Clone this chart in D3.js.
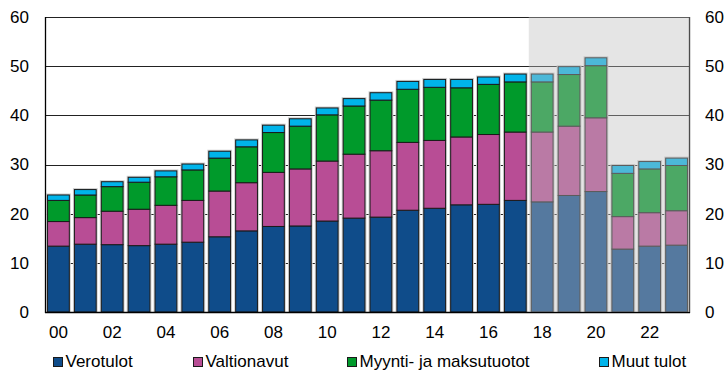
<!DOCTYPE html>
<html>
<head>
<meta charset="utf-8">
<script src="https://cdn.jsdelivr.net/npm/d3@7"></script>
<style>
  html, body { margin: 0; padding: 0; background: #fff; }
  svg { display: block; }
  text { font-family: "Liberation Sans", Arial, sans-serif; fill: #000; }
</style>
</head>
<body>
<svg id="chart" width="728" height="371"></svg>
<script>
// Municipal revenue by source, EUR bn (years 2000–2023; 2018 onward projected)
const years = d3.range(2000, 2024);
const verotulot = [13.4,13.8,13.7,13.5,13.8,14.2,15.3,16.5,17.4,17.5,18.5,19.1,19.3,20.7,21.1,21.8,21.9,22.7,22.4,23.7,24.5,12.8,13.4,13.6];
const valtionavut = [5.0,5.4,6.8,7.4,7.9,8.5,9.3,9.8,11.0,11.6,12.2,13.0,13.5,13.8,13.8,13.8,14.2,13.9,14.2,14.1,15.0,6.6,6.8,7.0];
const myyntiJaMaksutuotot = [4.3,4.6,5.0,5.5,5.8,6.2,6.7,7.3,8.1,8.7,9.4,9.8,10.3,10.8,10.8,10.0,10.2,10.2,10.2,10.5,10.6,8.8,8.9,9.2];
const muutTulot = [1.1,1.1,1.0,1.0,1.2,1.2,1.4,1.4,1.5,1.5,1.4,1.5,1.5,1.6,1.6,1.7,1.5,1.6,1.6,1.6,1.6,1.6,1.5,1.5];
const seriesNames = ["Verotulot", "Valtionavut", "Myynti- ja maksutuotot", "Muut tulot"];
const yTicks = [0, 10, 20, 30, 40, 50, 60];
const xTickYears = d3.range(2000, 2024, 2);
const forecastStart = 2018;

const colors = ["#0f4c8a", "#b84d95", "#009a2b", "#00b4ea"];

const svg = d3.select("#chart");
const m = { left: 45, right: 690, top: 17, bottom: 312 };

const rows = years.map((yr, i) => ({
  year: yr,
  Verotulot: verotulot[i],
  Valtionavut: valtionavut[i],
  "Myynti- ja maksutuotot": myyntiJaMaksutuotot[i],
  "Muut tulot": muutTulot[i]
}));
const stacked = d3.stack().keys(seriesNames)(rows);

const x = d3.scaleBand().domain(years).range([m.left, m.right])
  .paddingInner(0.19).paddingOuter(0.095);
const y = d3.scaleLinear().domain([0, 60]).range([m.bottom, m.top]);

// horizontal grid
svg.append("g").selectAll("line").data(yTicks.filter(t => t > 0)).join("line")
  .attr("x1", m.left).attr("x2", m.right)
  .attr("y1", d => Math.round(y(d)) + 0.5).attr("y2", d => Math.round(y(d)) + 0.5)
  .attr("stroke", "#222").attr("stroke-width", 1);

// faint halo behind each bar
svg.append("g").selectAll("rect").data(rows).join("rect")
  .attr("x", d => x(d.year) - 1.5)
  .attr("width", x.bandwidth() + 3)
  .attr("y", d => y(d3.sum(seriesNames, k => d[k])) - 1.5)
  .attr("height", d => m.bottom - y(d3.sum(seriesNames, k => d[k])) + 1.5)
  .attr("fill", "#cfcfcf");

// stacked bars
svg.append("g").selectAll("g").data(stacked).join("g")
  .attr("fill", (d, i) => colors[i])
  .selectAll("rect").data(d => d).join("rect")
  .attr("x", d => x(d.data.year))
  .attr("width", x.bandwidth())
  .attr("y", d => y(d[1]))
  .attr("height", d => y(d[0]) - y(d[1]))
  .attr("stroke", "#1a1a1a").attr("stroke-width", 1);

// axes frame
svg.append("line").attr("x1", m.left + 0.5).attr("x2", m.left + 0.5)
  .attr("y1", m.top).attr("y2", m.bottom + 1).attr("stroke", "#000").attr("stroke-width", 1.3);
svg.append("line").attr("x1", m.right - 0.5).attr("x2", m.right - 0.5)
  .attr("y1", m.top).attr("y2", m.bottom + 1).attr("stroke", "#000").attr("stroke-width", 1.3);
svg.append("line").attr("x1", m.left).attr("x2", m.right)
  .attr("y1", m.bottom + 0.5).attr("y2", m.bottom + 0.5).attr("stroke", "#000").attr("stroke-width", 1.5);

// projection period shading
const shadeX = x(forecastStart) - x.step() * x.paddingInner() / 2;
svg.append("rect")
  .attr("x", shadeX).attr("y", m.top)
  .attr("width", m.right - shadeX).attr("height", m.bottom - m.top)
  .attr("fill", "rgb(190,190,190)").attr("fill-opacity", 0.4);

// y tick labels, both sides
const yLeft = d3.axisLeft(y).tickValues(yTicks).tickSize(0).tickPadding(16);
const gL = svg.append("g").attr("transform", `translate(${m.left},0)`).call(yLeft);
const yRight = d3.axisRight(y).tickValues(yTicks).tickSize(0).tickPadding(15);
const gR = svg.append("g").attr("transform", `translate(${m.right},0)`).call(yRight);
[gL, gR].forEach(g => {
  g.select(".domain").remove();
  g.selectAll("text").attr("font-size", 17).attr("font-family", "Liberation Sans, Arial, sans-serif");
});

// x tick labels
const xAxis = d3.axisBottom(x).tickValues(xTickYears)
  .tickFormat(d => String(d % 100).padStart(2, "0")).tickSize(0).tickPadding(14);
const gX = svg.append("g").attr("transform", `translate(0,${m.bottom})`).call(xAxis);
gX.select(".domain").remove();
gX.selectAll("text").attr("font-size", 17).attr("font-family", "Liberation Sans, Arial, sans-serif");

// legend
const legendX = [53, 193, 347, 599];
const lg = svg.append("g").selectAll("g").data(seriesNames).join("g")
  .attr("transform", (d, i) => `translate(${legendX[i]},357)`);
lg.append("rect").attr("x", 0.5).attr("y", 0.5).attr("width", 9).attr("height", 9)
  .attr("fill", (d, i) => colors[i]).attr("stroke", "#1a1a1a").attr("stroke-width", 1);
lg.append("text").attr("x", 12.5).attr("y", 9.8).attr("font-size", 17).text(d => d);
</script>
</body>
</html>
